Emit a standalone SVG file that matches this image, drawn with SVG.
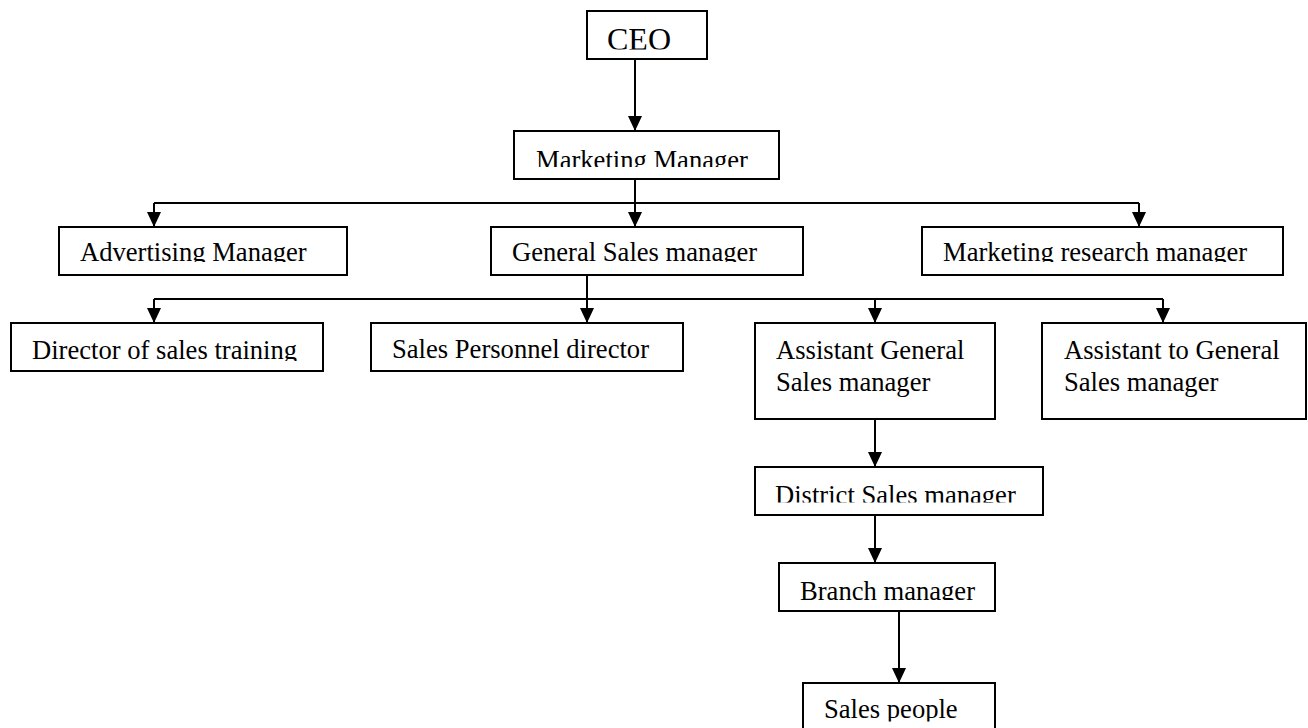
<svg xmlns="http://www.w3.org/2000/svg" width="1308" height="728" viewBox="0 0 1308 728">
<style>
.box{fill:#fff;stroke:#000;stroke-width:2}
.t{font-family:"Liberation Serif","Times New Roman",serif;font-size:26.6px;fill:#000}
.big{font-size:32px}
.c{fill:none;stroke:#000;stroke-width:2}
</style>
<defs>
<marker id="ah" markerUnits="userSpaceOnUse" markerWidth="15" markerHeight="14" refX="15" refY="7" orient="auto" viewBox="0 0 15 14">
<path d="M0,0 L15,7 L0,14 Z" fill="#000"/>
</marker>
<clipPath id="cCEO"><rect x="588" y="12" width="118" height="37.5"/></clipPath>
<clipPath id="cMM"><rect x="515" y="132" width="263" height="35"/></clipPath>
<clipPath id="cR1"><rect x="0" y="228" width="1308" height="34"/></clipPath>
<clipPath id="cR2"><rect x="0" y="324" width="740" height="37"/></clipPath>
<clipPath id="cDS"><rect x="756" y="468" width="286" height="34.5"/></clipPath>
<clipPath id="cBR"><rect x="780" y="564" width="214" height="36"/></clipPath>
<clipPath id="cSP"><rect x="804" y="684" width="190" height="37.5"/></clipPath>
</defs>
<rect width="1308" height="728" fill="#fff"/>
<g id="connectors">
<line class="c" x1="635" y1="59" x2="635" y2="131" marker-end="url(#ah)"/>
<line class="c" x1="635" y1="179" x2="635" y2="203"/>
<line class="c" x1="154" y1="203" x2="1139" y2="203"/>
<line class="c" x1="154" y1="203" x2="154" y2="227" marker-end="url(#ah)"/>
<line class="c" x1="635" y1="203" x2="635" y2="227" marker-end="url(#ah)"/>
<line class="c" x1="1139" y1="203" x2="1139" y2="227" marker-end="url(#ah)"/>
<line class="c" x1="587" y1="275" x2="587" y2="299"/>
<line class="c" x1="154" y1="299" x2="1163" y2="299"/>
<line class="c" x1="154" y1="299" x2="154" y2="323" marker-end="url(#ah)"/>
<line class="c" x1="587" y1="299" x2="587" y2="323" marker-end="url(#ah)"/>
<line class="c" x1="875" y1="299" x2="875" y2="323" marker-end="url(#ah)"/>
<line class="c" x1="1163" y1="299" x2="1163" y2="323" marker-end="url(#ah)"/>
<line class="c" x1="875" y1="419" x2="875" y2="467" marker-end="url(#ah)"/>
<line class="c" x1="875" y1="515" x2="875" y2="563" marker-end="url(#ah)"/>
<line class="c" x1="899" y1="611" x2="899" y2="683" marker-end="url(#ah)"/>
</g>
<g id="ceo"><rect class="box" x="587" y="11" width="120" height="48"/><text class="t big" x="607" y="50" clip-path="url(#cCEO)">CEO</text></g>
<g id="marketing-manager"><rect class="box" x="514" y="131" width="265" height="48"/><text class="t" x="536" y="169" clip-path="url(#cMM)">Marketing Manager</text></g>
<g id="advertising-manager"><rect class="box" x="59" y="227" width="288" height="48"/><text class="t" x="80" y="261" clip-path="url(#cR1)">Advertising Manager</text></g>
<g id="general-sales-manager"><rect class="box" x="491" y="227" width="312" height="48"/><text class="t" x="512" y="261" clip-path="url(#cR1)">General Sales manager</text></g>
<g id="marketing-research-manager"><rect class="box" x="922" y="227" width="361" height="48"/><text class="t" x="943" y="261" clip-path="url(#cR1)">Marketing research manager</text></g>
<g id="director-sales-training"><rect class="box" x="11" y="323" width="312" height="48"/><text class="t" x="32" y="359" clip-path="url(#cR2)">Director of sales training</text></g>
<g id="sales-personnel-director"><rect class="box" x="371" y="323" width="312" height="48"/><text class="t" x="392" y="358" clip-path="url(#cR2)">Sales Personnel director</text></g>
<g id="assistant-general-sales-manager"><rect class="box" x="755" y="323" width="240" height="96"/><text class="t" x="776" y="359">Assistant General</text><text class="t" x="776" y="391">Sales manager</text></g>
<g id="assistant-to-general-sales-manager"><rect class="box" x="1042" y="323" width="264" height="96"/><text class="t" x="1064" y="359">Assistant to General</text><text class="t" x="1064" y="391">Sales manager</text></g>
<g id="district-sales-manager"><rect class="box" x="755" y="467" width="288" height="48"/><text class="t" x="775" y="503.5" clip-path="url(#cDS)">District Sales manager</text></g>
<g id="branch-manager"><rect class="box" x="779" y="563" width="216" height="48"/><text class="t" x="800" y="599.5" clip-path="url(#cBR)">Branch manager</text></g>
<g id="sales-people"><rect class="box" x="803" y="683" width="192" height="48"/><text class="t" x="824" y="718" clip-path="url(#cSP)">Sales people</text></g>
</svg>
